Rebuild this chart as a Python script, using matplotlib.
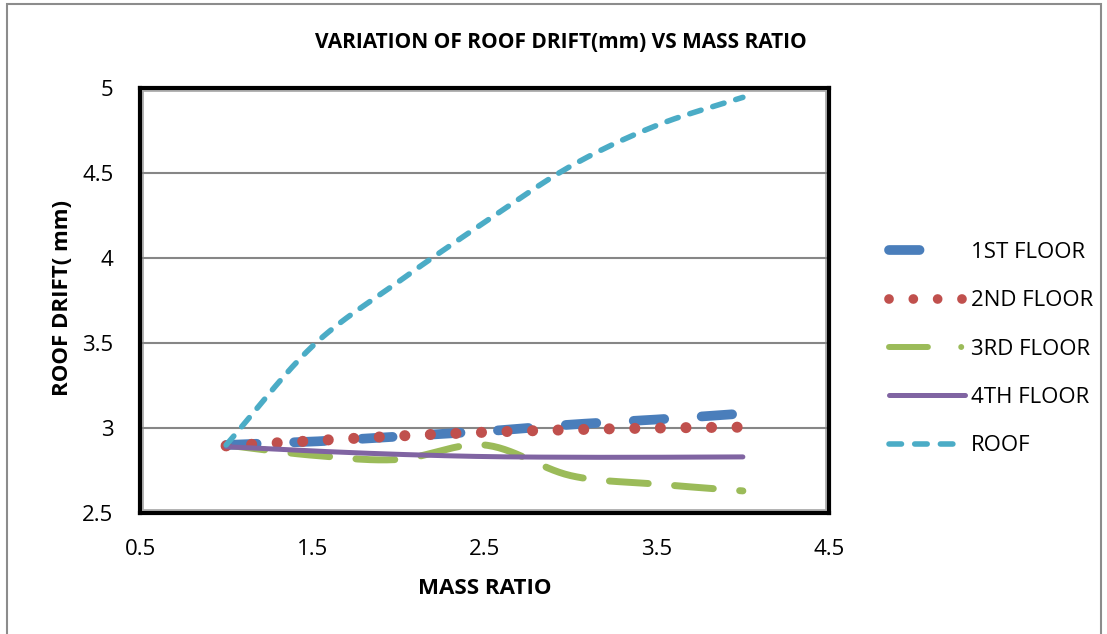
import numpy as np
import matplotlib.pyplot as plt
from matplotlib.patches import Rectangle
from matplotlib.lines import Line2D

plt.rcParams['font.family'] = ['Open Sans', 'DejaVu Sans']
plt.rcParams['lines.scale_dashes'] = False

mass_ratio = [1.0, 1.5, 2.0, 2.5, 3.0, 3.5, 4.0]
floor1 = [2.90, 2.92, 2.95, 2.98, 3.02, 3.05, 3.085]
floor2 = [2.895, 2.925, 2.953, 2.975, 2.99, 3.00, 3.005]
floor3 = [2.90, 2.84, 2.815, 2.90, 2.72, 2.67, 2.63]
floor4 = [2.89, 2.865, 2.845, 2.832, 2.828, 2.828, 2.83]
roof = [2.90, 3.48, 3.86, 4.21, 4.54, 4.78, 4.945]

labels = ['1ST FLOOR', '2ND FLOOR', '3RD FLOOR', '4TH FLOOR', 'ROOF']
colors = ['#4a7ebb', '#c0504d', '#9bbb59', '#8064a2', '#4bacc6']


def smooth(x, y, n=30):
    # Catmull-Rom curve through the points (spreadsheet-style smoothed line)
    x = np.asarray(x, float)
    y = np.asarray(y, float)
    px = np.concatenate([[2 * x[0] - x[1]], x, [2 * x[-1] - x[-2]]])
    py = np.concatenate([[2 * y[0] - y[1]], y, [2 * y[-1] - y[-2]]])
    xs, ys = [], []
    t = np.linspace(0, 1, n, endpoint=False)
    for i in range(1, len(px) - 2):
        for p, out in ((px, xs), (py, ys)):
            p0, p1, p2, p3 = p[i - 1], p[i], p[i + 1], p[i + 2]
            out.extend(0.5 * (2 * p1 + (-p0 + p2) * t
                              + (2 * p0 - 5 * p1 + 4 * p2 - p3) * t ** 2
                              + (-p0 + 3 * p1 - 3 * p2 + p3) * t ** 3))
    xs.append(x[-1])
    ys.append(y[-1])
    return np.array(xs), np.array(ys)


fig = plt.figure(figsize=(11.07, 6.34), dpi=100)
fig.patches.append(Rectangle((7 / 1107, -0.01), 1094 / 1107, 1 - 4 / 634 + 0.01,
                             transform=fig.transFigure, fill=False,
                             edgecolor='#8c8c8c', linewidth=1.5))
ax = fig.add_axes([140 / 1107, 1 - 513 / 634, 689 / 1107, 425 / 634])

styles = [
    dict(lw=7.0, ls=(0, (22, 27)), dash_capstyle='round'),
    dict(lw=8.0, ls=(0, (0.01, 18.4)), dash_capstyle='round'),
    dict(lw=5.0, ls=(0, (28, 19)), dash_capstyle='round'),
    dict(lw=3.6, ls='-', solid_capstyle='round'),
    dict(lw=4.0, ls=(0, (8.5, 8.8)), dash_capstyle='round'),
]
series = [floor1, floor2, floor3, floor4, roof]
zorders = [2, 3, 1, 4, 5]
for vals, col, st, zz in zip(series, colors, styles, zorders):
    sx, sy = smooth(mass_ratio, vals)
    ax.plot(sx, sy, color=col, zorder=zz, **st)

# legend samples
handles = [
    Line2D([], [], color=colors[0], lw=7.0, ls=(0, (22, 100)), dash_capstyle='round'),
    Line2D([], [], color=colors[1], lw=7.0, ls=(0, (0.01, 17.5)), dash_capstyle='round'),
    Line2D([], [], color=colors[2], lw=4.3, ls=(0, (28, 24, 0.01, 30)), dash_capstyle='round'),
    Line2D([], [], color=colors[3], lw=3.6, ls='-', solid_capstyle='round'),
    Line2D([], [], color=colors[4], lw=4.0, ls=(0, (9, 9.5)), dash_capstyle='round'),
]

ax.set_xlim(0.5, 4.5)
ax.set_ylim(2.5, 5)
ax.set_xticks([0.5, 1.5, 2.5, 3.5, 4.5])
ax.set_xticklabels(['0.5', '1.5', '2.5', '3.5', '4.5'])
ax.set_yticks([2.5, 3, 3.5, 4, 4.5, 5])
ax.set_yticklabels(['2.5', '3', '3.5', '4', '4.5', '5'])
ax.tick_params(axis='both', labelsize=16, length=0)
ax.tick_params(axis='x', pad=19)
ax.tick_params(axis='y', pad=19)
ax.grid(axis='y', color='#868686', linewidth=1.5)
ax.set_axisbelow(True)
for sp in ax.spines.values():
    sp.set_linewidth(3)
    sp.set_color('black')
ax.add_patch(Rectangle((0.004, 0.006), 0.992, 0.988, transform=ax.transAxes,
                       fill=False, edgecolor='#a6a6a6', linewidth=1.2, zorder=0.5))

fig.text(561 / 1107, 1 - 43 / 634, 'VARIATION OF ROOF DRIFT(mm) VS MASS RATIO',
         fontsize=15, fontweight='bold', ha='center', va='center')
ax.set_xlabel('MASS RATIO', fontsize=16, fontweight='bold')
ax.xaxis.set_label_coords(0.5, -(588 - 513) / 425)
ax.xaxis.label.set_va('center')
ax.set_ylabel('ROOF DRIFT( mm)', fontsize=16, fontweight='bold')
ax.yaxis.set_label_coords(-(140 - 63) / 689, (513 - 298) / 425)
ax.yaxis.label.set_va('center')

ax.legend(handles, labels, loc='upper left',
          bbox_to_anchor=(869 / 1107, 1 - 222 / 634),
          bbox_transform=fig.transFigure, frameon=False, fontsize=16,
          handlelength=3.4, handletextpad=0.27, labelspacing=1.23)

fig.savefig('out.png', dpi=100)
